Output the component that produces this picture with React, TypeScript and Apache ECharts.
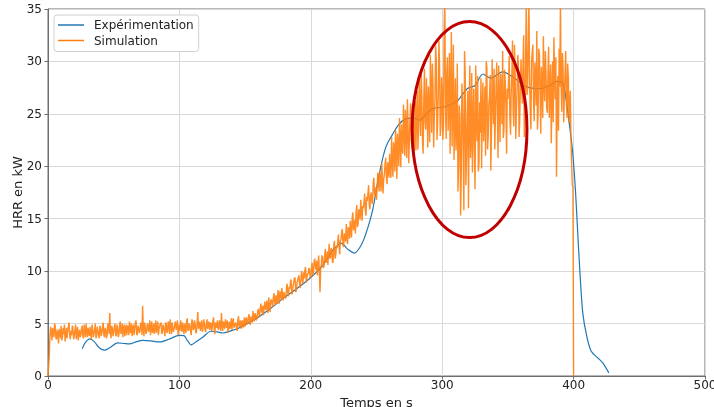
import React, { useEffect, useRef } from "react";
import * as echarts from "echarts";

// Experimental HRR (kW) vs time (s)
const expTime = [26, 28.5, 31.7, 35, 39, 43, 47, 53, 58, 62, 67, 72, 78, 85, 92, 100, 103.5, 106, 109, 113, 118, 124, 129, 133, 139, 145, 150, 160, 170, 180, 190, 200, 210, 216, 220, 223, 228, 233, 238, 242, 247, 252, 257, 262, 267, 272, 278, 283, 288, 293, 303, 312, 319, 325, 331, 337, 346, 355, 364, 374, 382, 387, 391.8, 394.4, 397, 399.4, 401.5, 403, 405, 407, 410, 413.4, 418.4, 422.2, 426.8];
const expHRR = [2.6, 3.2, 3.54, 3.3, 2.7, 2.46, 2.7, 3.16, 3.1, 3.06, 3.25, 3.4, 3.35, 3.25, 3.5, 3.88, 3.85, 3.4, 2.97, 3.3, 3.73, 4.27, 4.2, 4.1, 4.3, 4.55, 4.9, 5.6, 6.5, 7.5, 8.4, 9.4, 10.7, 11.9, 12.4, 12.67, 12.1, 11.72, 12.4, 13.6, 15.8, 19.2, 21.8, 23.0, 24.0, 24.5, 24.6, 24.4, 25.0, 25.5, 25.7, 26.3, 27.4, 27.7, 28.8, 28.4, 29.0, 28.4, 27.6, 27.4, 27.7, 28.1, 27.9, 26.3, 23.8, 21.2, 17.5, 14.0, 9.5, 6.0, 3.8, 2.36, 1.73, 1.25, 0.3];

// Simulated HRR (kW) at whole seconds, t = 0 .. 400 s
const simHRR = [
  0, 2.0, 4.7, 3.4, 4.1, 5.0, 3.6, 4.4, 3.1, 4.2,
  4.8, 3.7, 4.0, 3.3, 4.6, 4.3, 5.1, 3.5, 3.9, 4.5,
  3.8, 4.9, 4.2, 3.4, 4.4, 3.9, 4.8, 3.6, 4.3, 5.0,
  3.7, 4.1, 4.7, 3.5, 4.5, 4.0, 5.0, 3.8, 4.3, 3.6,
  4.6, 4.1, 5.1, 3.7, 4.4, 3.9, 4.8, 6.0, 3.6, 4.5,
  4.2, 5.0, 3.8, 4.6, 4.0, 5.2, 4.3, 3.7, 4.9, 4.4,
  3.9, 4.7, 5.2, 4.1, 3.8, 4.9, 4.4, 5.3, 3.9, 4.6,
  4.3, 5.1, 6.7, 3.8, 4.7, 4.2, 5.0, 4.5, 3.9, 5.2,
  4.4, 4.0, 5.3, 4.6, 3.9, 4.8, 5.1, 4.2, 4.7, 3.8,
  5.0, 4.3, 4.8, 5.4, 4.0, 4.6, 4.2, 5.2, 4.7, 3.9,
  4.9, 5.3, 4.2, 4.6, 5.0, 4.1, 5.5, 4.4, 4.8, 3.9,
  5.2, 4.5, 4.9, 4.2, 6.1, 4.7, 4.3, 5.3, 4.6, 5.0,
  4.2, 5.4, 4.8, 4.4, 5.1, 4.6, 5.6, 4.0, 4.9, 5.3,
  4.5, 5.0, 6.0, 4.3, 4.8, 5.4, 4.6, 4.1, 5.2, 4.9,
  4.4, 5.5, 4.8, 5.1, 4.3, 5.7, 4.9, 4.5, 5.3, 5.0,
  4.7, 5.6, 5.1, 5.9, 4.9, 5.4, 6.2, 5.2, 5.8, 5.5,
  6.4, 5.6, 6.9, 6.0, 5.8, 7.1, 6.3, 6.8, 7.5, 6.1,
  7.3, 6.6, 7.9, 6.8, 7.4, 8.2, 6.9, 7.7, 8.4, 7.2,
  8.0, 7.4, 8.8, 7.6, 8.3, 9.2, 7.9, 8.6, 9.4, 8.2,
  8.9, 9.6, 8.4, 10.0, 8.8, 9.3, 10.4, 8.9, 9.7, 10.2,
  9.4, 10.8, 9.8, 11.2, 10.1, 9.6, 11.5, 8.0, 10.7, 11.3,
  10.4, 12.1, 11.0, 10.6, 12.6, 11.3, 12.0, 10.9, 12.9, 11.5,
  12.2, 13.5, 11.6, 13.0, 14.0, 12.3, 13.4, 14.5, 12.6, 13.9,
  14.8, 13.2, 15.6, 14.1, 13.6, 16.3, 14.5, 15.7, 16.8, 14.8,
  16.0, 17.4, 15.3, 16.7, 18.2, 15.9, 17.5, 16.4, 18.9, 17.1,
  16.8, 19.4, 17.6, 18.5, 20.3, 17.4, 19.2, 20.8, 18.3, 19.7,
  21.2, 18.9, 20.4, 22.3, 19.5, 21.6, 23.1, 20.0, 22.4, 24.0,
  21.2, 23.5, 25.4, 20.8, 24.1, 22.3, 26.0, 21.7, 24.8, 23.0,
  21.5, 27.2, 23.8, 25.6, 29.0, 22.4, 26.3, 24.2, 28.4, 21.8,
  25.0, 30.6, 23.2, 27.8, 24.6, 31.5, 22.5, 26.9, 29.6, 23.8,
  27.5, 24.0, 36.0, 22.6, 30.4, 26.0, 21.2, 32.8, 25.3, 20.6,
  28.4, 23.4, 17.6, 25.8, 15.3, 27.9, 21.0, 31.0, 18.2, 24.6,
  16.0, 29.6, 22.5, 19.4, 27.4, 17.8, 25.0, 28.6, 20.4, 23.2,
  19.8, 28.0, 24.5, 21.0, 29.4, 22.8, 26.6, 19.6, 30.2, 24.0,
  21.6, 27.8, 25.0, 29.6, 22.3, 26.9, 31.0, 23.5, 28.0, 21.2,
  26.4, 30.5, 23.0, 28.7, 25.2, 31.6, 22.6, 27.3, 29.8, 24.4,
  30.2, 26.0, 32.5, 24.6, 36.0, 27.4, 36.0, 25.4, 29.8, 31.6,
  24.3, 28.6, 32.9, 25.0, 30.6, 23.1, 27.9, 32.4, 26.2, 29.0,
  25.1, 31.4, 27.2, 22.2, 30.0, 32.3, 26.4, 19.0, 28.6, 31.2,
  36.0, 25.2, 29.4, 27.0, 31.0, 24.6, 28.4, 25.6, 22.5, 18.2,
  0,
];

// Simulated HRR (kW) at half seconds, t = 0.5 .. 399.5 s
const simHRRHalf = [
  1.0, 3.9, 4.2, 4.6, 3.7, 4.8, 3.5, 4.0, 4.5, 3.6,
  3.4, 4.6, 4.9, 3.8, 3.6, 4.7, 3.9, 4.3, 4.8, 3.5,
  4.4, 3.5, 4.7, 4.0, 3.7, 4.5, 3.8, 4.9, 3.7, 4.2,
  4.6, 3.8, 4.0, 4.9, 3.7, 4.4, 3.6, 4.7, 3.9, 4.8,
  3.8, 4.7, 3.9, 4.6, 3.6, 5.0, 4.0, 4.2, 4.8, 3.8,
  4.7, 3.9, 4.9, 3.7, 4.8, 4.0, 5.0, 4.5, 3.8, 4.9,
  4.8, 3.9, 4.4, 5.0, 4.6, 3.9, 5.1, 4.0, 4.8, 4.1,
  5.0, 3.9, 4.6, 5.1, 4.0, 4.9, 4.2, 5.3, 4.6, 4.1,
  5.0, 4.7, 4.1, 5.2, 4.5, 5.0, 4.0, 4.9, 4.2, 5.1,
  4.1, 5.2, 4.0, 4.7, 5.1, 4.2, 4.9, 4.4, 5.3, 4.5,
  4.3, 4.8, 5.1, 4.0, 4.7, 5.2, 4.3, 5.0, 4.2, 5.4,
  4.4, 5.3, 4.1, 5.1, 4.5, 5.2, 4.8, 4.2, 5.4, 4.4,
  5.0, 4.5, 5.2, 5.0, 4.3, 5.3, 4.4, 5.1, 4.6, 4.4,
  5.3, 4.3, 4.9, 5.2, 4.5, 4.9, 5.3, 4.7, 4.5, 5.5,
  5.2, 4.6, 5.0, 4.5, 5.4, 4.7, 5.3, 5.1, 4.6, 5.6,
  5.3, 4.9, 5.6, 5.0, 5.7, 5.1, 5.6, 6.0, 5.3, 6.1,
  5.9, 6.5, 6.2, 6.7, 6.5, 6.4, 7.2, 6.0, 6.6, 7.2,
  6.9, 7.5, 7.0, 7.7, 6.9, 7.6, 8.1, 7.3, 7.6, 8.0,
  7.5, 8.4, 7.9, 8.5, 9.0, 7.8, 8.6, 9.3, 8.0, 8.9,
  9.4, 8.6, 9.3, 9.2, 9.9, 10.1, 8.9, 9.8, 10.3, 9.3,
  10.3, 9.6, 10.9, 10.4, 11.0, 10.5, 9.9, 10.1, 11.5, 10.3,
  11.4, 10.8, 11.9, 11.6, 11.2, 12.2, 10.8, 12.5, 11.2, 12.4,
  12.8, 12.4, 12.9, 13.8, 12.5, 13.6, 12.8, 13.2, 14.2, 13.1,
  14.0, 15.1, 13.9, 14.9, 15.7, 14.2, 15.9, 14.9, 15.8, 16.2,
  16.6, 15.8, 17.1, 17.4, 16.3, 17.2, 16.6, 18.4, 17.4, 18.0,
  18.1, 18.4, 19.5, 17.6, 18.9, 18.8, 20.2, 19.0, 20.4, 18.9,
  19.6, 22.8, 19.0, 21.4, 23.5, 18.8, 22.0, 24.6, 19.9, 21.7,
  25.9, 21.0, 23.2, 26.4, 20.3, 24.7, 22.6, 25.8, 20.9, 26.2,
  24.8, 21.6, 28.3, 22.9, 26.8, 21.2, 29.3, 23.5, 25.7, 27.6,
  22.3, 27.4, 29.8, 21.8, 26.5, 30.2, 24.1, 32.0, 22.9, 28.5,
  22.5, 33.5, 25.6, 29.0, 23.4, 30.8, 27.2, 21.9, 31.6, 24.2,
  21.5, 29.8, 20.1, 24.6, 19.0, 26.3, 15.8, 28.9, 20.7, 27.2,
  25.3, 20.8, 28.9, 24.3, 21.5, 29.6, 22.4, 19.5, 26.1, 28.4,
  25.8, 22.4, 27.6, 30.0, 21.6, 25.9, 28.7, 23.3, 26.4, 29.3,
  24.5, 29.9, 20.8, 26.5, 28.8, 24.0, 22.7, 29.2, 25.6, 27.4,
  28.2, 24.6, 26.9, 32.0, 23.8, 28.9, 25.4, 30.6, 22.8, 27.8,
  27.5, 29.8, 22.8, 30.5, 26.8, 31.8, 28.3, 23.5, 30.9, 26.4,
  29.9, 25.8, 23.5, 31.2, 26.9, 29.5, 24.6, 27.8, 31.0, 25.5,
  28.8, 24.6, 29.7, 26.8, 24.2, 28.9, 30.4, 25.8, 23.4, 27.6,
  27.8, 30.8, 24.2, 28.9, 26.0, 29.8, 24.1, 27.2, 20.4, 18.0,
];

const xTicks = [0, 100, 200, 300, 400, 500];
const yTicks = [0, 5, 10, 15, 20, 25, 30, 35];

// Highlight ellipse (data units): centre and radii
const ellipseCenter = [320.8, 23.5];
const ellipseRadii = [43.7, 10.3];

const FONT = "DejaVu Sans";
const AXIS_COLOR = "#6e6e6e";

function simulationPoints(): number[][] {
  const pts: number[][] = [];
  for (let i = 0; i < simHRRHalf.length; i++) {
    pts.push([i, simHRR[i]]);
    pts.push([i + 0.5, simHRRHalf[i]]);
  }
  pts.push([simHRRHalf.length, simHRR[simHRRHalf.length]]);
  return pts;
}

export default function App() {
  const ref = useRef<HTMLDivElement>(null);
  useEffect(() => {
    if (!ref.current) return;
    const chart = echarts.init(ref.current, undefined, { renderer: "svg" });
    chart.setOption({
      animation: false,
      textStyle: { fontFamily: FONT },
      grid: {
        left: 48,
        right: 9,
        top: 9,
        bottom: 31,
        containLabel: false,
        outerBoundsMode: "none",
        show: true,
        borderColor: AXIS_COLOR,
        borderWidth: 1,
        backgroundColor: "transparent",
      },
      legend: {
        left: 54,
        top: 15,
        orient: "vertical",
        itemWidth: 26,
        itemHeight: 14,
        itemGap: 3.5,
        padding: [4, 5, 5, 4],
        backgroundColor: "#fff",
        borderColor: "#d0d0d0",
        borderWidth: 1,
        borderRadius: 3,
        icon: "path://M0,0H26V1.5H0Z",
        textStyle: { fontFamily: FONT, fontSize: 12, color: "#222", padding: [0, 0, 0, 5] },
        data: ["Expérimentation", "Simulation"],
      },
      xAxis: {
        type: "value",
        min: xTicks[0],
        max: xTicks[xTicks.length - 1],
        interval: 100,
        name: "Temps en s",
        nameLocation: "middle",
        nameGap: 20,
        nameMoveOverlap: false,
        nameTextStyle: { fontFamily: FONT, fontSize: 13, color: "#222" },
        axisLine: { show: true, lineStyle: { color: AXIS_COLOR, width: 1 } },
        axisTick: { show: true, length: 3.5, lineStyle: { color: AXIS_COLOR } },
        axisLabel: { fontFamily: FONT, fontSize: 12, color: "#222", margin: 3 },
        splitLine: { show: true, lineStyle: { color: "#d9d9d9", width: 1 } },
      },
      yAxis: {
        type: "value",
        min: yTicks[0],
        max: yTicks[yTicks.length - 1],
        interval: 5,
        name: "HRR en kW",
        nameLocation: "middle",
        nameGap: 24,
        nameMoveOverlap: false,
        nameTextStyle: { fontFamily: FONT, fontSize: 13, color: "#222" },
        axisLine: { show: true, lineStyle: { color: AXIS_COLOR, width: 1 } },
        axisTick: { show: true, length: 3.5, lineStyle: { color: AXIS_COLOR } },
        axisLabel: { fontFamily: FONT, fontSize: 12, color: "#222", margin: 6 },
        splitLine: { show: true, lineStyle: { color: "#d9d9d9", width: 1 } },
      },
      series: [
        {
          name: "Expérimentation",
          type: "line",
          data: expTime.map((t, i) => [t, expHRR[i]]),
          smooth: 0.3,
          showSymbol: false,
          symbol: "none",
          lineStyle: { color: "#1f77b4", width: 1.2 },
          itemStyle: { color: "#1f77b4" },
          z: 2,
        },
        {
          name: "Simulation",
          type: "line",
          data: simulationPoints(),
          showSymbol: false,
          symbol: "none",
          clip: true,
          lineStyle: { color: "#ff7f0e", width: 1.4, opacity: 0.9 },
          itemStyle: { color: "#ff7f0e" },
          z: 3,
        },
      ],
    });
    const c = chart.convertToPixel({ gridIndex: 0 }, ellipseCenter) as number[];
    const e = chart.convertToPixel({ gridIndex: 0 }, [
      ellipseCenter[0] + ellipseRadii[0],
      ellipseCenter[1] + ellipseRadii[1],
    ]) as number[];
    chart.setOption({
      graphic: [
        {
          type: "ellipse",
          shape: { cx: c[0], cy: c[1], rx: Math.abs(e[0] - c[0]), ry: Math.abs(e[1] - c[1]) },
          style: { fill: "none", stroke: "#c00000", lineWidth: 3 },
          z: 100,
        },
      ],
    });
    return () => chart.dispose();
  }, []);
  return (
    <div
      ref={ref}
      style={{ position: "fixed", left: 0, top: 0, width: 714, height: 407 }}
    />
  );
}
